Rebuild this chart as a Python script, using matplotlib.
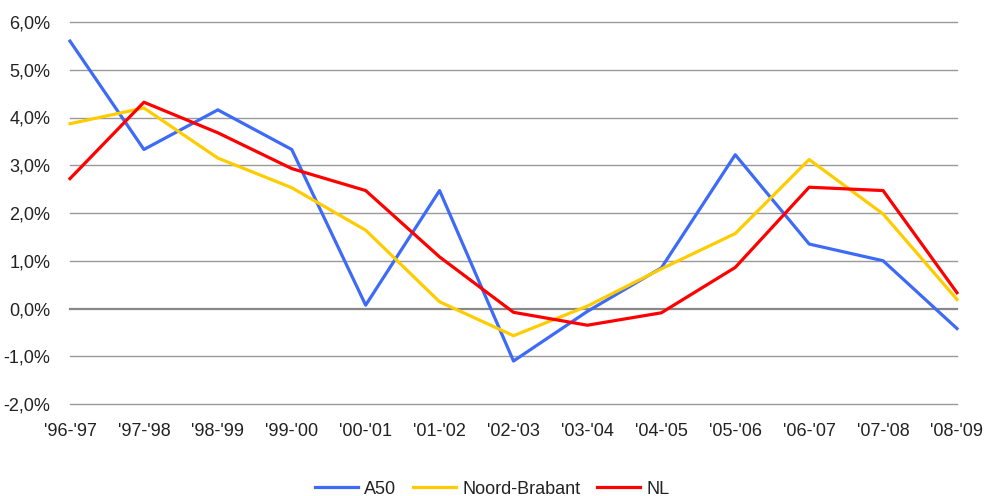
import matplotlib
matplotlib.use('Agg')
import matplotlib.pyplot as plt
from matplotlib.ticker import FuncFormatter

plt.rcParams['font.family'] = ['Liberation Sans', 'DejaVu Sans']

periods = ["'96-'97", "'97-'98", "'98-'99", "'99-'00", "'00-'01", "'01-'02", "'02-'03",
           "'03-'04", "'04-'05", "'05-'06", "'06-'07", "'07-'08", "'08-'09"]

a50 = [5.60, 3.33, 4.16, 3.33, 0.07, 2.47, -1.10, -0.06, 0.85, 3.22, 1.35, 1.00, -0.42]
noord_brabant = [3.87, 4.20, 3.15, 2.53, 1.64, 0.14, -0.57, 0.05, 0.83, 1.57, 3.12, 1.98, 0.19]
nl = [2.72, 4.32, 3.68, 2.93, 2.47, 1.08, -0.08, -0.35, -0.09, 0.86, 2.54, 2.47, 0.33]

yticks = [-2, -1, 0, 1, 2, 3, 4, 5, 6]

fig = plt.figure(figsize=(9.84, 4.96), dpi=100)
ax = fig.add_axes([70 / 984, 1 - 404 / 496, 887 / 984, 382 / 496])

x = list(range(len(periods)))
ax.plot(x, a50, color='#3D6BF7', lw=2.3, label='A50', zorder=3, clip_on=False)
ax.plot(x, noord_brabant, color='#FFCC00', lw=2.3, label='Noord-Brabant', zorder=3, clip_on=False)
ax.plot(x, nl, color='#FF0000', lw=2.3, label='NL', zorder=3, clip_on=False)

ax.set_xlim(0, len(periods) - 1)
ax.set_ylim(-2, 6)
ax.set_yticks(yticks)
ax.yaxis.set_major_formatter(FuncFormatter(lambda v, p: ('%.1f%%' % v).replace('.', ',')))
ax.set_xticks(x)
ax.set_xticklabels(periods)

for v in yticks:
    if v == 0:
        ax.axhline(v, color='#888888', lw=1.6, zorder=1, clip_on=False)
    else:
        ax.axhline(v, color='#999999', lw=1.0, zorder=1, clip_on=False)

for s in ax.spines.values():
    s.set_visible(False)
ax.tick_params(axis='both', length=0, labelsize=13, colors='#222222')
ax.tick_params(axis='y', pad=14)
ax.tick_params(axis='x', pad=14)

fig.legend(loc='lower center', bbox_to_anchor=(0.5, -0.036), ncol=3, frameon=False,
           fontsize=13, handlelength=2.4, handletextpad=0.35, columnspacing=0.9,
           labelcolor='#222222')

fig.savefig('out.png', dpi=100)
